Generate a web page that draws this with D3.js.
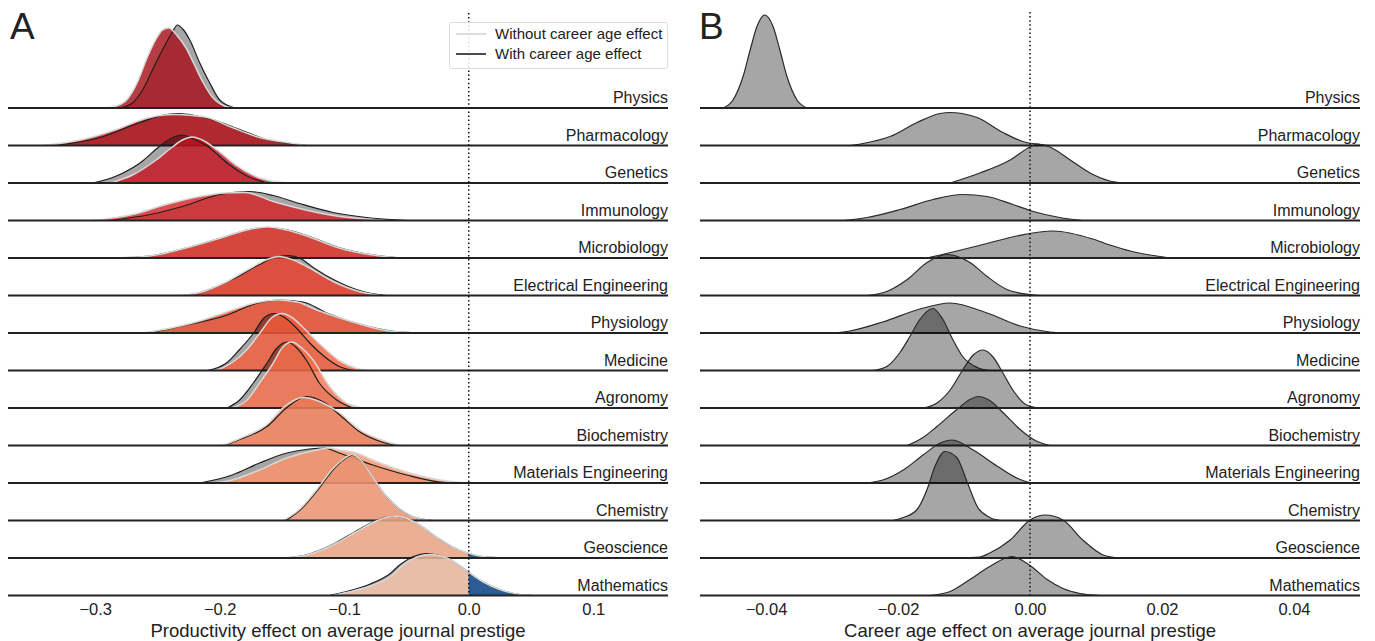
<!DOCTYPE html>
<html><head><meta charset="utf-8">
<script src="https://cdn.jsdelivr.net/npm/d3@7"></script>
<style>
body{margin:0;background:#fff}
svg{display:block}
text{font-family:"Liberation Sans",Arial,Helvetica,sans-serif;fill:#222}
</style>
</head><body>
<svg id="c" width="1375" height="641"></svg>
<script>
// ---------------- DATA ----------------
const categories = ["Physics","Pharmacology","Genetics","Immunology","Microbiology","Electrical Engineering","Physiology","Medicine","Agronomy","Biochemistry","Materials Engineering","Chemistry","Geoscience","Mathematics"];

// Panel A: productivity effect densities, [effect, density(a.u.)]
const prodWithout = [
 [[-0.292,0],[-0.283,2],[-0.274,9],[-0.266,26],[-0.259,48],[-0.252,67],[-0.246,78],[-0.241,80],[-0.234,72],[-0.227,60],[-0.221,45],[-0.214,27],[-0.206,11],[-0.196,2],[-0.188,0]],
 [[-0.342,0],[-0.310,6],[-0.283,16],[-0.262,26],[-0.248,30],[-0.236,31],[-0.222,30],[-0.210,28],[-0.190,18],[-0.168,8],[-0.146,3],[-0.130,0]],
 [[-0.288,0],[-0.270,8],[-0.251,23],[-0.238,36],[-0.230,43],[-0.222,46],[-0.214,43],[-0.202,33],[-0.186,17],[-0.168,5],[-0.146,0]],
 [[-0.302,0],[-0.270,6],[-0.243,16],[-0.216,24],[-0.196,27.5],[-0.180,28],[-0.157,19],[-0.136,12],[-0.109,5],[-0.082,1.5],[-0.067,0]],
 [[-0.283,0],[-0.256,2],[-0.230,9],[-0.194,22],[-0.178,28],[-0.162,31],[-0.146,28],[-0.130,22],[-0.104,10],[-0.077,3],[-0.055,0]],
 [[-0.230,0],[-0.216,3],[-0.194,14],[-0.173,29],[-0.162,36],[-0.152,39],[-0.142,36],[-0.130,29],[-0.109,14],[-0.088,4],[-0.071,0]],
 [[-0.262,0],[-0.243,4],[-0.216,12],[-0.190,23],[-0.172,30],[-0.154,33],[-0.138,31],[-0.122,23],[-0.096,12],[-0.069,3],[-0.042,0]],
 [[-0.202,0],[-0.190,8],[-0.178,21],[-0.168,37],[-0.158,53],[-0.150,57],[-0.142,53],[-0.133,43],[-0.120,27],[-0.104,10],[-0.090,2],[-0.080,0]],
 [[-0.190,0],[-0.178,8],[-0.168,25],[-0.157,45],[-0.150,60],[-0.142,66],[-0.134,60],[-0.125,48],[-0.112,22],[-0.098,5],[-0.085,0]],
 [[-0.198,0],[-0.184,7],[-0.162,21],[-0.148,39],[-0.133,48],[-0.118,43],[-0.104,33],[-0.088,16],[-0.071,6],[-0.055,0]],
 [[-0.204,0],[-0.190,3],[-0.168,13],[-0.146,25],[-0.122,33],[-0.112,35],[-0.104,33],[-0.090,30],[-0.077,23],[-0.050,11],[-0.023,3],[-0.002,0]],
 [[-0.149,0],[-0.136,11],[-0.122,31],[-0.109,52],[-0.101,61],[-0.094,66],[-0.087,61],[-0.077,43],[-0.066,24],[-0.055,11],[-0.045,4],[-0.029,0]],
 [[-0.148,0],[-0.130,3],[-0.106,15],[-0.092,25],[-0.076,36],[-0.061,42],[-0.051,40],[-0.042,35],[-0.026,21],[-0.013,11],[-0.001,5],[0.011,1.5],[0.031,0]],
 [[-0.109,0],[-0.098,3],[-0.080,9],[-0.063,19],[-0.050,33],[-0.031,41],[-0.015,36],[-0.001,24],[0.011,14],[0.025,6],[0.041,1],[0.051,0]]
];
const prodWith = [
 [[-0.280,0],[-0.270,5],[-0.262,18],[-0.254,38],[-0.246,58],[-0.238,76],[-0.234,83],[-0.229,78],[-0.224,68],[-0.216,45],[-0.208,25],[-0.200,8],[-0.188,0]],
 [[-0.331,0],[-0.296,8],[-0.264,23],[-0.243,31],[-0.232,32],[-0.220,30],[-0.206,26],[-0.184,16],[-0.162,6],[-0.144,2],[-0.130,0]],
 [[-0.302,0],[-0.283,7],[-0.264,20],[-0.248,37],[-0.240,44],[-0.230,48],[-0.221,44],[-0.210,37],[-0.194,20],[-0.178,7],[-0.162,0]],
 [[-0.288,0],[-0.256,6],[-0.230,14],[-0.200,26],[-0.176,29],[-0.157,25],[-0.136,17],[-0.109,8],[-0.082,3],[-0.063,1],[-0.050,0]],
 [[-0.285,0],[-0.256,2],[-0.230,9],[-0.194,22],[-0.178,28],[-0.161,30.5],[-0.145,28],[-0.129,22],[-0.103,10],[-0.076,3],[-0.053,0]],
 [[-0.229,0],[-0.216,3],[-0.190,16],[-0.168,31],[-0.156,38],[-0.145,40],[-0.135,37],[-0.125,28],[-0.104,13],[-0.082,3],[-0.066,0]],
 [[-0.256,0],[-0.230,7],[-0.194,18],[-0.172,29],[-0.152,33],[-0.133,31],[-0.114,20],[-0.082,7],[-0.055,1],[-0.034,0]],
 [[-0.210,0],[-0.194,8],[-0.184,21],[-0.173,37],[-0.164,53],[-0.156,57],[-0.148,53],[-0.138,42],[-0.128,28],[-0.116,14],[-0.104,4],[-0.093,0]],
 [[-0.194,0],[-0.184,8],[-0.173,25],[-0.162,45],[-0.154,60],[-0.146,66],[-0.138,60],[-0.130,47],[-0.120,25],[-0.106,8],[-0.093,0]],
 [[-0.196,0],[-0.184,6],[-0.162,19],[-0.146,38],[-0.130,49],[-0.116,43],[-0.104,31],[-0.088,14],[-0.071,4],[-0.058,0]],
 [[-0.216,0],[-0.190,8],[-0.168,20],[-0.146,30],[-0.128,34],[-0.116,35],[-0.104,30],[-0.077,18],[-0.050,8],[-0.023,1],[-0.002,0]],
 [[-0.147,0],[-0.135,11],[-0.121,31],[-0.108,52],[-0.100,61],[-0.094,65],[-0.087,61],[-0.077,43],[-0.066,24],[-0.055,11],[-0.045,4],[-0.029,0]],
 [[-0.150,0],[-0.131,3],[-0.107,15],[-0.093,25],[-0.077,36],[-0.062,42],[-0.052,40],[-0.042,35],[-0.026,21],[-0.013,11],[-0.001,5],[0.011,1.5],[0.031,0]],
 [[-0.112,0],[-0.098,4],[-0.080,11],[-0.063,22],[-0.055,31],[-0.034,42],[-0.015,36],[-0.001,24],[0.011,14],[0.025,6],[0.041,1],[0.051,0]]
];

// Panel B: career age effect densities, [effect, density(a.u.)]
const careerAge = [
 [[-0.0465,0],[-0.0450,8],[-0.0435,31],[-0.0424,58],[-0.0414,81],[-0.0402,93],[-0.0389,81],[-0.0379,58],[-0.0368,31],[-0.0353,8],[-0.0338,0]],
 [[-0.0273,0],[-0.0253,2],[-0.0212,9],[-0.0171,23],[-0.0136,32],[-0.0121,33],[-0.0103,32],[-0.0080,28],[-0.0041,13],[-0.0011,4],[0.0015,1],[0.0030,0]],
 [[-0.0121,0],[-0.0076,10],[-0.0030,23],[0.0000,36],[0.0011,39],[0.0030,36],[0.0061,23],[0.0091,10],[0.0121,2],[0.0141,0]],
 [[-0.0283,0],[-0.0247,3],[-0.0197,11],[-0.0147,21],[-0.0102,26],[-0.0065,24],[-0.0026,16],[0.0005,9],[0.0045,3],[0.0080,0]],
 [[-0.0156,0],[-0.0136,3],[-0.0080,12],[-0.0020,22],[0.0035,27],[0.0095,19],[0.0121,13],[0.0152,7],[0.0182,3],[0.0212,0]],
 [[-0.0247,0],[-0.0217,4],[-0.0186,16],[-0.0156,33],[-0.0126,41],[-0.0091,33],[-0.0065,19],[-0.0035,6],[0.0000,1],[0.0015,0]],
 [[-0.0298,0],[-0.0273,2],[-0.0223,11],[-0.0167,24],[-0.0121,30],[-0.0065,20],[-0.0015,7],[0.0030,1],[0.0056,0]],
 [[-0.0238,0],[-0.0217,4],[-0.0197,18],[-0.0182,34],[-0.0167,51],[-0.0147,62],[-0.0132,51],[-0.0117,31],[-0.0102,14],[-0.0080,3],[-0.0061,0]],
 [[-0.0162,0],[-0.0141,5],[-0.0121,18],[-0.0102,38],[-0.0086,53],[-0.0071,58],[-0.0056,51],[-0.0041,35],[-0.0026,18],[-0.0005,3],[0.0015,0]],
 [[-0.0186,0],[-0.0162,8],[-0.0141,19],[-0.0111,36],[-0.0091,46],[-0.0079,49],[-0.0061,45],[-0.0041,33],[-0.0015,16],[0.0008,5],[0.0030,0]],
 [[-0.0247,0],[-0.0223,3],[-0.0192,13],[-0.0162,28],[-0.0136,40],[-0.0118,43],[-0.0086,33],[-0.0050,17],[-0.0020,5],[0.0000,0.5],[0.0011,0]],
 [[-0.0208,0],[-0.0192,3],[-0.0171,11],[-0.0156,31],[-0.0144,54],[-0.0129,69],[-0.0111,63],[-0.0095,38],[-0.0080,14],[-0.0061,3],[-0.0045,0]],
 [[-0.0111,0],[-0.0076,1],[-0.0061,5],[-0.0030,18],[0.0000,38],[0.0023,43],[0.0050,38],[0.0080,18],[0.0111,3],[0.0136,0]],
 [[-0.0152,0],[-0.0121,4],[-0.0091,16],[-0.0061,29],[-0.0027,39],[0.0000,30],[0.0026,16],[0.0050,7],[0.0076,2],[0.0106,0]]
];

const ticksA = [-0.3,-0.2,-0.1,0.0,0.1];
const ticksB = [-0.04,-0.02,0.00,0.02,0.04];
const legendLabels = ["Without career age effect","With career age effect"];
const axisTitles = ["Productivity effect on average journal prestige","Career age effect on average journal prestige"];

// ---------------- STYLE ----------------
// visible colour of each ridge where it lies over the grey "with" fill
const rowTargets = ["#a62a31","#b0292f","#c0303a","#cb3a3c","#d5463d","#dd5040","#e25f48","#e76b50","#e97c5e","#ec8a6c","#ee9676","#eea285","#ebaf94","#e9bea8"];
const fillAlpha = 0.8, greyAlpha = 0.35, greyLevel = 255*(1-greyAlpha);
function baseColor(t){const c=d3.rgb(t);const f=v=>Math.max(0,Math.min(255,Math.round((v-greyLevel*(1-fillAlpha))/fillAlpha)));return d3.rgb(f(c.r),f(c.g),f(c.b)).formatHex();}
const rowColors = rowTargets.map(baseColor);
const posColor = baseColor("#2b5c94");

// ---------------- LAYOUT ----------------
const svg = d3.select("#c");
const rowStep = 37.5, firstBase = 108;
const baseY = i => firstBase + i*rowStep;
const lastY = baseY(categories.length-1);
const xA = d3.scaleLinear().domain([-0.37,0.16]).range([8,668]);
const xB = d3.scaleLinear().domain([-0.05,0.05]).range([700,1360]);
const hScale = d3.scaleLinear().domain([0,37.5]).range([0,rowStep]);

const defs = svg.append("defs");
defs.append("clipPath").attr("id","negA").append("rect").attr("x",0).attr("y",0).attr("width",xA(0)).attr("height",641);
defs.append("clipPath").attr("id","posA").append("rect").attr("x",xA(0)).attr("y",0).attr("width",1375-xA(0)).attr("height",641);

const areaGen = (x,i)=>d3.area().curve(d3.curveMonotoneX).x(d=>x(d[0])).y0(baseY(i)).y1(d=>baseY(i)-hScale(d[1]));
const lineGen = (x,i)=>d3.line().curve(d3.curveMonotoneX).x(d=>x(d[0])).y(d=>baseY(i)-hScale(d[1]));
const labelSize = 16;

// Panel A rows
categories.forEach((cat,i)=>{
  const g = svg.append("g");
  g.append("path").attr("d",areaGen(xA,i)(prodWith[i])).attr("fill","#000").attr("fill-opacity",greyAlpha);
  g.append("path").attr("d",areaGen(xA,i)(prodWithout[i])).attr("fill",rowColors[i]).attr("fill-opacity",fillAlpha).attr("clip-path","url(#negA)");
  g.append("path").attr("d",areaGen(xA,i)(prodWithout[i])).attr("fill",posColor).attr("fill-opacity",fillAlpha).attr("clip-path","url(#posA)");
  g.append("path").attr("d",lineGen(xA,i)(prodWith[i])).attr("fill","none").attr("stroke","#1e1e1e").attr("stroke-width",1.2);
  g.append("path").attr("d",lineGen(xA,i)(prodWithout[i])).attr("fill","none").attr("stroke","#d8d8d8").attr("stroke-width",1.5);
  g.append("line").attr("x1",xA.range()[0]).attr("x2",xA.range()[1]).attr("y1",baseY(i)).attr("y2",baseY(i)).attr("stroke","#222").attr("stroke-width",1.8);
  g.append("text").attr("x",xA.range()[1]).attr("y",baseY(i)-5).attr("text-anchor","end").attr("font-size",labelSize).text(cat);
});

// Panel B rows
categories.forEach((cat,i)=>{
  const g = svg.append("g");
  g.append("path").attr("d",areaGen(xB,i)(careerAge[i])).attr("fill","#000").attr("fill-opacity",greyAlpha);
  g.append("path").attr("d",lineGen(xB,i)(careerAge[i])).attr("fill","none").attr("stroke","#2a2a2a").attr("stroke-width",1.2);
  g.append("line").attr("x1",xB.range()[0]).attr("x2",xB.range()[1]).attr("y1",baseY(i)).attr("y2",baseY(i)).attr("stroke","#222").attr("stroke-width",1.8);
  g.append("text").attr("x",xB.range()[1]).attr("y",baseY(i)-5).attr("text-anchor","end").attr("font-size",labelSize).text(cat);
});

// zero lines
[[xA,13],[xB,12]].forEach(([x,top])=>{
  svg.append("line").attr("x1",x(0)).attr("x2",x(0)).attr("y1",top).attr("y2",lastY)
    .attr("stroke","#111").attr("stroke-width",1.5).attr("stroke-dasharray","1.5,2.6");
});

// axes
const axA = svg.append("g").attr("transform",`translate(0,${lastY})`)
  .call(d3.axisBottom(xA).tickValues(ticksA).tickFormat(d3.format(".1f")).tickSize(0).tickPadding(8));
const axB = svg.append("g").attr("transform",`translate(0,${lastY})`)
  .call(d3.axisBottom(xB).tickValues(ticksB).tickFormat(d3.format(".2f")).tickSize(0).tickPadding(8));
[axA,axB].forEach(a=>{a.select(".domain").remove();a.selectAll("text").attr("font-size",16.5).attr("fill","#222").attr("font-family","Liberation Sans, Arial, sans-serif");});

svg.append("text").attr("x",(xA.range()[0]+xA.range()[1])/2).attr("y",637).attr("text-anchor","middle").attr("font-size",18.5).text(axisTitles[0]);
svg.append("text").attr("x",(xB.range()[0]+xB.range()[1])/2).attr("y",637).attr("text-anchor","middle").attr("font-size",18.5).text(axisTitles[1]);

// panel letters
svg.append("text").attr("x",10).attr("y",39).attr("font-size",37).text("A");
svg.append("text").attr("x",699).attr("y",39).attr("font-size",37).text("B");

// legend
const lg = svg.append("g");
lg.append("rect").attr("x",449.5).attr("y",22.5).attr("width",218).attr("height",46).attr("rx",2).attr("fill","#fff").attr("fill-opacity",0.85).attr("stroke","#dcdcdc");
const lstyles = [{c:"#d0d0d0",w:1.5},{c:"#111",w:1.5}];
legendLabels.forEach((t,k)=>{
  const y = 34 + k*20;
  lg.append("line").attr("x1",456).attr("x2",486).attr("y1",y).attr("y2",y).attr("stroke",lstyles[k].c).attr("stroke-width",lstyles[k].w);
  lg.append("text").attr("x",495).attr("y",y+5).attr("font-size",15).text(t);
});
</script>
</body></html>
